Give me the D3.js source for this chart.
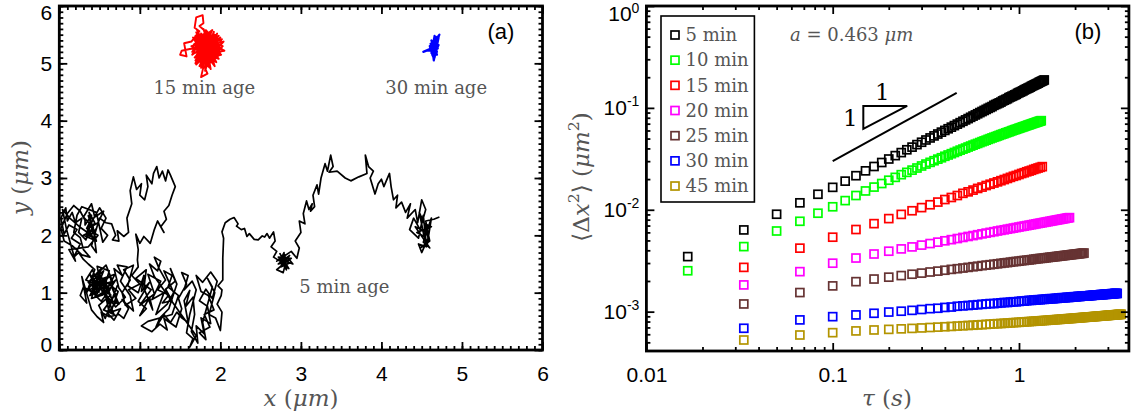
<!DOCTYPE html>
<html>
<head>
<meta charset="utf-8">
<script src="https://cdn.jsdelivr.net/npm/d3@7"></script>
<style>
  body { margin: 0; background: #fff; }
  svg { display: block; }
</style>
</head>
<body>
<svg id="fig" width="1140" height="416"></svg>
<script>
// ---------- Panel (a): particle trajectories, x / y in micrometres ----------
const traj5 = [
  // knot at lower left
  [0.50,1.00],[0.42,1.22],[0.55,1.38],[0.47,1.10],[0.60,1.25],[0.38,1.05],[0.52,0.85],[0.63,1.05],[0.45,1.30],[0.58,1.48],
  [0.66,1.20],[0.50,1.12],[0.62,0.82],[0.70,0.98],[0.55,0.70],[0.68,0.62],[0.60,0.90],[0.74,0.80],[0.65,1.10],[0.48,0.95],
  [0.30,1.10],[0.26,0.95],[0.34,0.82],[0.28,1.28],[0.40,0.70],[0.47,0.58],[0.55,0.48],[0.52,0.66],[0.62,0.58],[0.74,0.62],
  [0.80,0.55],[0.86,0.72],[0.78,0.88],[0.92,0.68],[0.88,0.95],[0.76,1.20],[0.84,1.45],[0.72,1.48],[0.78,1.30],[0.68,1.42],
  [0.74,1.08],[0.82,0.92],[0.70,0.75],
  [0.38,1.32],[0.46,1.05],[0.36,1.18],[0.52,1.42],[0.43,0.98],[0.58,1.12],[0.49,1.35],[0.40,0.90],[0.54,0.96],[0.47,1.46],
  [0.62,1.38],[0.55,1.05],[0.70,1.22],[0.60,1.00],[0.52,1.28],[0.66,0.86],[0.57,1.20],[0.73,1.02],[0.64,0.66],[0.76,0.72],
  [0.68,0.52],[0.60,0.64],[0.71,0.84],[0.63,1.28],[0.48,1.18],[0.41,1.40],[0.33,1.22],[0.45,1.15],[0.38,0.95],[0.50,1.05],
  [0.56,1.18],[0.44,0.92],[0.58,1.02],[0.69,1.32],[0.53,1.24],[0.61,0.72],[0.72,1.12],[0.57,0.55],[0.49,0.78],[0.64,0.96],
  [0.40,1.15],[0.34,1.00],[0.44,1.40],[0.36,1.50],[0.30,1.58],[0.24,1.70],[0.18,1.62],[0.26,1.85],[0.15,1.95],[0.22,2.10],
  // knot at the left edge
  [0.12,2.18],[0.06,2.02],[0.02,2.30],[0.08,2.48],[0.10,2.25],[0.16,2.40],[0.20,2.22],[0.28,2.30],[0.24,2.05],[0.33,1.92],
  [0.38,2.20],[0.30,2.32],[0.40,2.55],[0.44,2.32],[0.55,2.42],[0.48,2.22],[0.36,2.12],[0.42,1.95],[0.34,2.05],[0.42,2.28],
  [0.50,2.48],[0.58,2.30],[0.52,2.12],[0.60,2.00],[0.54,1.88],[0.46,2.40],[0.28,2.50],[0.22,2.35],[0.18,2.05],[0.26,1.96],
  [0.30,1.75],[0.38,1.62],[0.28,1.66],[0.16,1.82],[0.06,1.90],[0.02,2.12],[0.10,2.38],[0.18,2.52],[0.26,2.42],[0.32,2.26],
  [0.32,2.18],[0.40,2.35],[0.35,1.96],[0.44,2.22],[0.37,2.40],[0.41,2.08],[0.30,2.00],[0.46,1.90],[0.39,2.26],[0.34,2.12],
  [0.48,2.00],[0.36,1.80],[0.12,1.75],[0.20,1.55],[0.09,2.10],[0.04,2.45],[0.13,2.30],[0.25,2.15],[0.38,2.02],
  [0.38,1.98],[0.46,2.12],[0.40,1.82],[0.46,1.70],[0.42,2.15],[0.36,2.34],[0.44,2.02],[0.50,2.30],[0.58,2.22],[0.65,2.20],
  // upper loop
  [0.70,2.00],[0.66,1.92],[0.74,1.90],[0.72,2.08],[0.80,1.98],[0.86,2.05],[0.84,2.30],[0.90,2.55],[0.88,2.78],[0.92,3.02],
  [0.96,2.80],[1.02,2.90],[1.00,2.70],[1.06,2.62],[1.10,2.85],[1.08,3.05],[1.15,2.90],[1.17,3.08],[1.21,3.20],[1.24,3.00],
  [1.28,3.12],[1.32,2.95],[1.35,3.14],[1.38,3.05],[1.44,2.85],[1.40,2.70],[1.36,2.52],[1.30,2.42],[1.33,2.28],[1.26,2.15],
  [1.30,2.05],[1.22,2.25],[1.18,2.10],[1.13,1.86],[1.05,1.98],[1.00,1.86],[0.95,2.02],[0.98,1.75],[0.97,1.57],[0.98,1.45],
  // middle knot
  [0.90,1.30],[1.00,1.15],[0.86,1.05],[0.95,0.90],[0.82,0.78],[0.78,1.00],[0.88,1.22],[0.80,1.40],[0.92,1.48],[0.85,1.12],
  [0.98,1.00],[1.05,1.30],[1.02,1.02],[1.12,1.18],[0.98,0.85],[1.08,0.72],[1.00,0.60],[1.12,0.92],[1.16,0.70],[1.05,1.08],
  [1.08,1.40],[0.95,1.25],[1.14,1.05],[1.00,0.78],[1.18,0.98],[1.10,1.32],[1.26,1.20],[1.15,0.88],[1.30,1.00],[1.20,0.62],
  [1.34,0.80],[1.42,1.00],[1.30,1.38],[1.40,1.30],[1.35,1.10],[1.48,0.95],[1.40,0.62],
  [1.10,0.50],[1.02,0.42],[1.15,0.32],[1.25,0.45],[1.34,0.35],[1.30,0.55],[1.45,0.40],[1.52,0.72],[1.48,0.90],[1.58,1.15],
  [1.52,1.35],[1.60,1.30],[1.55,1.05],[1.65,1.20],[1.70,1.05],[1.62,0.62],[1.58,0.30],[1.66,0.20],[1.62,0.05],[1.70,0.25],
  [1.18,1.28],[1.12,1.50],[1.22,1.38],[1.26,1.55],[1.18,1.62],[1.24,1.42],[1.32,1.22],[1.22,1.05],[1.36,0.96],[1.28,0.82],
  [1.40,0.86],[1.32,1.06],[1.44,1.20],[1.38,1.42],[1.46,1.15],[1.36,0.72],[1.25,0.56],[1.20,0.40],[1.30,0.62],[1.38,0.48],
  // bottom stretch
  [1.46,0.66],[1.52,0.56],[1.60,0.48],[1.55,0.86],[1.62,1.04],[1.57,0.76],[1.66,0.92],[1.68,0.62],[1.64,0.32],[1.72,0.12],
  [1.70,0.42],[1.80,0.28],[1.76,0.56],[1.88,0.46],[1.84,0.76],[1.74,0.86],[1.82,1.06],[1.90,0.90],[1.96,1.20],[1.88,1.36],
  [1.78,1.18],[1.70,1.30],[1.76,1.02],[1.85,0.95],[1.92,0.70],[1.80,0.62],[1.87,0.40],[1.74,0.30],[1.82,0.18],[1.78,0.48],
  [1.90,1.10],[1.84,1.25],[1.93,1.00],[1.86,0.62],[1.94,0.56],[2.00,0.34],[2.02,0.66],[1.96,0.80],[2.01,0.95],
  // climb and drift to the right
  [2.02,1.05],[1.97,1.12],[2.03,1.22],[2.03,1.60],[2.04,1.95],[2.02,2.06],[2.06,2.22],[2.12,2.28],[2.17,2.31],[2.22,2.20],
  [2.20,2.16],[2.26,2.10],[2.30,2.12],[2.33,1.98],[2.36,2.03],[2.42,1.93],[2.47,1.92],[2.52,1.99],[2.55,1.97],[2.58,2.03],
  [2.61,1.95],[2.66,2.06],[2.68,1.90],[2.63,1.80],[2.70,1.72],[2.66,1.62],[2.74,1.55],[2.79,1.70],[2.80,1.45],[2.76,1.60],
  [2.84,1.55],[2.72,1.50],[2.86,1.65],[2.80,1.52],[2.70,1.40],[2.78,1.35],[2.83,1.62],[2.90,1.50],[2.76,1.57],[2.82,1.48],
  [2.74,1.68],[2.85,1.42],[2.77,1.48],[2.88,1.60],[2.72,1.62],[2.82,1.40],[2.79,1.58],[2.86,1.52],[2.75,1.45],[2.81,1.66],
  [2.70,1.55],[2.88,1.72],[2.95,1.60],[2.98,1.78],[2.93,1.90],[3.00,2.05],[2.98,2.25],[3.05,2.20],[3.03,2.38],[3.07,2.60],
  [3.10,2.45],[3.14,2.55],[3.12,2.42],[3.17,2.50],[3.15,2.70],[3.20,2.88],[3.22,2.72],[3.25,3.00],[3.30,3.25],[3.33,3.12],
  [3.37,3.40],[3.40,3.20],[3.35,3.10],[3.45,3.12],[3.55,3.00],[3.62,2.95],[3.72,3.02],[3.82,3.08],[3.80,3.40],[3.84,3.20],
  [3.90,3.12],[3.86,3.00],[3.92,2.72],[3.96,2.90],[4.00,2.98],[4.03,2.85],[4.10,3.08],[4.12,2.85],[4.15,2.62],[4.20,2.70],
  [4.18,2.48],[4.25,2.58],[4.30,2.40],[4.36,2.55],[4.32,2.30],[4.42,2.45],[4.45,2.22],[4.50,2.62],[4.55,2.45],[4.48,2.10],
  [4.40,2.30],[4.35,2.10],[4.46,1.95],[4.52,2.35],[4.56,1.80],[4.46,1.85],[4.50,1.70],[4.58,1.95],[4.54,2.20],[4.62,2.15],
  [4.44,2.05],[4.53,1.98],[4.47,2.40],[4.58,2.05],[4.42,2.15],[4.60,1.78],[4.52,1.88],[4.62,2.30],
  [4.57,1.85],[4.48,1.78],[4.60,1.90],[4.55,2.25],[4.65,2.28],[4.72,2.32]
];
const traj15 = [
  [1.80,5.30],[1.70,5.45],[1.92,5.18],[1.75,5.05],[1.98,5.40],[1.66,5.22],[1.88,5.55],[1.85,4.95],[1.70,5.35],[2.02,5.25],
  [1.78,5.48],[1.95,5.02],[1.64,5.30],[1.90,5.40],[1.72,5.12],[1.99,5.32],[1.82,5.58],[1.76,4.92],[1.93,5.28],[1.68,5.40],
  [1.86,5.10],[2.04,5.38],[1.74,5.25],[1.88,4.90],[1.80,5.52],[1.65,5.15],[1.96,5.45],[1.84,5.20],[1.71,5.58],[1.92,5.00],
  [1.78,5.36],[2.01,5.15],[1.69,5.05],[1.87,5.45],[1.81,4.87],[1.94,5.35],[1.73,5.50],[1.98,5.08],[1.77,5.18],[1.90,5.58],
  [1.67,5.33],[1.85,5.03],[2.03,5.30],[1.75,5.42],[1.83,5.12],[1.96,5.52],[1.70,4.98],[1.89,5.25],[1.79,5.60],[1.93,4.95],
  [1.66,5.45],[1.86,5.35],[2.00,5.45],[1.72,5.20],[1.84,4.82],[1.76,4.76],[1.80,5.00],[1.95,5.20],[1.68,5.10],[1.91,5.48],
  [1.78,5.28],[1.62,5.25],[1.52,5.22],[1.50,5.15],[1.58,5.12],[1.55,5.35],[1.64,5.38],[1.74,5.56],[1.68,5.62],[1.70,5.80],
  [1.78,5.84],[1.79,5.70],[1.74,5.65],[1.82,5.55],[1.88,5.30],[1.97,5.12],[1.82,5.42],[1.73,5.15],[1.91,5.06],[1.80,5.40],
  [2.05,5.22],[1.87,5.18],[1.71,5.30],[1.94,5.42],[1.83,5.00],[1.69,5.48],[1.99,5.28],[1.77,5.10],[1.92,5.55],[1.84,5.25],
  [1.74,4.95],[1.97,5.36],[1.81,5.50],[1.65,5.20],[1.90,5.12],[1.79,4.98],[2.02,5.42],[1.75,5.32],[1.88,5.02],[1.70,5.54],
  [1.95,5.26],[1.82,5.16],[1.67,5.42],[1.93,5.50],[1.86,4.93],[1.78,5.44],[2.00,5.18],[1.73,5.08],[1.89,5.36],[1.80,5.22],
  [1.76,5.52],[1.91,5.32],[1.84,5.06],[1.71,5.26],[1.98,5.48],[1.85,5.40],[1.69,5.00],[1.94,5.14],[1.80,5.34],
  [1.86,5.22],[1.74,5.38],[1.90,5.28],[1.78,5.14],[1.83,5.46],[1.72,5.34],[1.95,5.34],[1.81,5.08],[1.76,5.46],[1.88,5.16],
  [1.70,5.24],[1.92,5.40],[1.79,5.32],[1.85,5.48],[1.75,5.20],[1.97,5.24],[1.82,5.36],[1.73,5.42],[1.89,5.10],[1.80,5.46],
  [1.77,5.24],[1.94,5.30],[1.83,5.30],[1.71,5.16],[1.87,5.38],[1.79,5.06],[1.91,5.20],[1.76,5.30],[1.84,5.42],[1.80,5.14]
];
const traj30 = [
  [4.65,5.25],[4.62,5.35],[4.70,5.30],[4.63,5.15],[4.68,5.40],[4.60,5.22],[4.71,5.45],[4.66,5.10],[4.64,5.38],[4.69,5.20],
  [4.61,5.30],[4.72,5.50],[4.67,5.32],[4.62,5.18],[4.70,5.38],[4.65,5.05],[4.63,5.28],[4.68,5.46],[4.60,5.25],[4.52,5.20],
  [4.56,5.22],[4.64,5.22],[4.70,5.26],[4.66,5.42],[4.63,5.33],[4.69,5.15],[4.62,5.40],[4.67,5.20],[4.65,5.35],[4.71,5.32],
  [4.64,5.12],[4.60,5.30],[4.68,5.28],[4.66,5.48],[4.63,5.24],[4.70,5.42],[4.65,5.15],[4.67,5.36],[4.62,5.26],[4.69,5.34],
  [4.64,5.30],[4.66,5.18],[4.61,5.34],[4.68,5.22],[4.65,5.42],[4.67,5.28]
];
const trajLabels = ["5 min age", "15 min age", "30 min age"];

// ---------- Panel (b): mean squared displacement, um^2 ----------
const frameRate = 60;                 // frames per second; lag = index / frameRate
const ageLabels = ["5 min", "10 min", "15 min", "20 min", "25 min", "30 min", "45 min"];
const ageColors = ["#000000", "#00ff00", "#ff0000", "#ff00ff", "#663333", "#0000ff", "#b39400"];
const firstLag = [1, 1, 2, 2, 2, 2, 2];
const lagStep  = [1, 1, 2, 2, 2, 2, 2];
const msd5 = [0.00347,0.00634,0.00904,0.0117,0.0142,0.0166,0.0191,0.0216,0.0241,0.0266,0.0291,0.0315,0.0340,0.0364,0.0388,0.0412,
  0.0436,0.0460,0.0484,0.0507,0.0531,0.0554,0.0578,0.0601,0.0624,0.0647,0.0670,0.0693,0.0716,0.0739,0.0762,0.0785,0.0808,0.0831,
  0.0853,0.0876,0.0899,0.0921,0.0944,0.0966,0.0989,0.101,0.103,0.106,0.108,0.110,0.112,0.114,0.117,0.119,0.121,0.123,0.126,0.128,
  0.130,0.132,0.134,0.136,0.139,0.141,0.143,0.145,0.147,0.150,0.152,0.154,0.156,0.158,0.160,0.163,0.165,0.167,0.169,0.171,0.173,
  0.175,0.178,0.180,0.182,0.184,0.186,0.188];
const msd10 = [0.00252,0.00435,0.00619,0.00771,0.00925,0.0107,0.0123,0.0138,0.0153,0.0167,0.0181,0.0195,0.0208,0.0221,0.0233,0.0245,
  0.0257,0.0269,0.0281,0.0292,0.0303,0.0314,0.0324,0.0335,0.0345,0.0355,0.0365,0.0375,0.0385,0.0394,0.0403,0.0413,0.0422,0.0431,
  0.0440,0.0448,0.0457,0.0466,0.0474,0.0482,0.0491,0.0499,0.0507,0.0515,0.0522,0.0530,0.0538,0.0546,0.0553,0.0560,0.0568,0.0575,
  0.0582,0.0589,0.0597,0.0604,0.0611,0.0617,0.0624,0.0631,0.0638,0.0644,0.0651,0.0657,0.0664,0.0670,0.0677,0.0683,0.0689,0.0696,
  0.0702,0.0708,0.0714,0.0720,0.0726,0.0732,0.0738,0.0743,0.0749];
const msd15 = [0.00272,0.00420,0.00538,0.00640,0.00731,0.00819,0.00901,0.00978,0.0105,0.0112,0.0119,0.0126,0.0132,0.0138,0.0145,
  0.0150,0.0156,0.0162,0.0167,0.0173,0.0178,0.0183,0.0188,0.0193,0.0198,0.0203,0.0208,0.0213,0.0217,0.0222,0.0227,0.0231,0.0236,
  0.0240,0.0244,0.0249,0.0253,0.0257,0.0261,0.0265];
const msd20 = [0.00183,0.00247,0.00299,0.00336,0.00368,0.00392,0.00413,0.00432,0.00450,0.00466,0.00481,0.00496,0.00509,0.00522,
  0.00535,0.00547,0.00558,0.00569,0.00580,0.00590,0.00600,0.00609,0.00619,0.00628,0.00636,0.00645,0.00653,0.00661,0.00669,0.00677,
  0.00685,0.00692,0.00699,0.00706,0.00713,0.00720,0.00727,0.00734,0.00740,0.00746,0.00753,0.00759,0.00765,0.00771,0.00777,0.00783,
  0.00789,0.00794,0.00800,0.00805,0.00811,0.00816,0.00821,0.00827,0.00832,0.00837];
const msd25 = [0.00119,0.00154,0.00179,0.00197,0.00209,0.00218,0.00226,0.00233,0.00239,0.00245,0.00250,0.00255,0.00260,0.00264,
  0.00268,0.00272,0.00276,0.00279,0.00283,0.00286,0.00289,0.00292,0.00295,0.00298,0.00301,0.00303,0.00306,0.00309,0.00311,0.00313,
  0.00316,0.00318,0.00320,0.00322,0.00324,0.00327,0.00329,0.00331,0.00333,0.00334,0.00336,0.00338,0.00340,0.00342,0.00343,0.00345,
  0.00347,0.00348,0.00350,0.00352,0.00353,0.00355,0.00356,0.00358,0.00359,0.00361,0.00362,0.00364,0.00365,0.00366,0.00368,0.00369,
  0.00370,0.00372,0.00373,0.00374,0.00376];
const msd30 = [0.000687,0.000830,0.000893,0.000929,0.000964,0.000991,0.00101,0.00103,0.00105,0.00107,0.00108,0.00110,0.00111,
  0.00113,0.00114,0.00115,0.00116,0.00117,0.00118,0.00119,0.00120,0.00120,0.00121,0.00122,0.00123,0.00123,0.00124,0.00125,0.00125,
  0.00126,0.00127,0.00127,0.00128,0.00129,0.00129,0.00130,0.00130,0.00131,0.00131,0.00132,0.00132,0.00133,0.00133,0.00134,0.00134,
  0.00134,0.00135,0.00135,0.00136,0.00136,0.00137,0.00137,0.00137,0.00138,0.00138,0.00138,0.00139,0.00139,0.00140,0.00140,0.00140,
  0.00141,0.00141,0.00141,0.00142,0.00142,0.00142,0.00143,0.00143,0.00143,0.00143,0.00144,0.00144,0.00144,0.00145,0.00145,0.00145,
  0.00146,0.00146,0.00146,0.00146,0.00147,0.00147,0.00147,0.00147,0.00148,0.00148,0.00148,0.00148,0.00149,0.00149,0.00149,0.00149,
  0.00150,0.00150,0.00150,0.00150,0.00151,0.00151,0.00151,0.00151];
const msd45 = [0.000527,0.000590,0.000622,0.000647,0.000661,0.000670,0.000678,0.000685,0.000692,0.000699,0.000705,0.000711,
  0.000716,0.000722,0.000727,0.000732,0.000736,0.000741,0.000745,0.000750,0.000754,0.000758,0.000762,0.000765,0.000769,0.000773,
  0.000776,0.000780,0.000783,0.000786,0.000790,0.000793,0.000796,0.000799,0.000802,0.000805,0.000808,0.000811,0.000813,0.000816,
  0.000819,0.000821,0.000824,0.000827,0.000829,0.000832,0.000834,0.000837,0.000839,0.000841,0.000844,0.000846,0.000848,0.000851,
  0.000853,0.000855,0.000857,0.000859,0.000861,0.000864,0.000866,0.000868,0.000870,0.000872,0.000874,0.000876,0.000878,0.000880,
  0.000882,0.000884,0.000885,0.000887,0.000889,0.000891,0.000893,0.000895,0.000897,0.000898,0.000900,0.000902,0.000904,0.000905,
  0.000907,0.000909,0.000910,0.000912,0.000914,0.000915,0.000917,0.000918,0.000920,0.000921,0.000923,0.000925,0.000926,0.000928,
  0.000929,0.000931,0.000932,0.000934,0.000935,0.000937,0.000938,0.000940,0.000941,0.000943];
const msdAll = [msd5, msd10, msd15, msd20, msd25, msd30, msd45];

// slope-one guide line and triangle, in (tau, msd) coordinates
const guideLine = [[0.1, 0.0301], [0.463, 0.140]];
const guideTriangle = [[0.146, 0.0621], [0.146, 0.1044], [0.251, 0.1044]];

// ---------- drawing ----------
const SANS = "'Liberation Sans', Arial, sans-serif";
const SERIF = "'DejaVu Serif', serif";
const GREY = "#555555";
const svg = d3.select("#fig");
svg.append("rect").attr("width", 1140).attr("height", 416).attr("fill", "#fff");

// text made of plain / italic / superscript pieces
function mathText(sel, parts, fs) {
  let raised = false;
  parts.forEach(p => {
    const t = sel.append("tspan").text(p.t);
    if (p.it) t.attr("font-style", "italic");
    if (p.sup) {
      t.attr("font-size", fs * 0.68).attr("dy", -fs * 0.42);
      raised = true;
    } else if (raised) {
      t.attr("dy", fs * 0.42);
      raised = false;
    }
  });
  return sel;
}

function styleAxis(g, fs) {
  g.select(".domain").remove();
  g.attr("font-family", SANS).attr("font-size", fs);
  g.selectAll(".tick line").attr("stroke", "#000").attr("stroke-width", 1.8);
  g.selectAll(".tick text").attr("fill", "#000");
}

// frame + mirrored major/minor inward ticks
function frame(g, x, y, xMajor, xMinor, yMajor, yMinor, xFmt, yFmt) {
  const [x0, x1] = x.range(), [y0, y1] = y.range();
  const MAJ = 8, MIN = 4;
  const add = (axis, tx, ty) => g.append("g").attr("transform", `translate(${tx},${ty})`).call(axis).call(s => styleAxis(s, 21));
  add(d3.axisBottom(x).tickValues(xMinor).tickSize(-MIN).tickFormat(""), 0, y0);
  add(d3.axisTop(x).tickValues(xMinor).tickSize(-MIN).tickFormat(""), 0, y1);
  add(d3.axisLeft(y).tickValues(yMinor).tickSize(-MIN).tickFormat(""), x0, 0);
  add(d3.axisRight(y).tickValues(yMinor).tickSize(-MIN).tickFormat(""), x1, 0);
  const bx = add(d3.axisBottom(x).tickValues(xMajor).tickSize(-MAJ).tickPadding(16).tickFormat(xFmt), 0, y0);
  add(d3.axisTop(x).tickValues(xMajor).tickSize(-MAJ).tickFormat(""), 0, y1);
  const ly = add(d3.axisLeft(y).tickValues(yMajor).tickSize(-MAJ).tickPadding(7).tickFormat(yFmt), x0, 0);
  add(d3.axisRight(y).tickValues(yMajor).tickSize(-MAJ).tickFormat(""), x1, 0);
  g.append("rect").attr("x", x0).attr("y", y1).attr("width", x1 - x0).attr("height", y0 - y1)
    .attr("fill", "none").attr("stroke", "#000").attr("stroke-width", 2.8);
  return { bx, ly };
}

// ----- panel (a) -----
const gA = svg.append("g");
const xA = d3.scaleLinear().domain([0, 6]).range([59.3, 542.5]);
const yA = d3.scaleLinear().domain([0, 6]).range([350, 6]);
const lineA = d3.line().x(d => xA(d[0])).y(d => yA(d[1]));

gA.append("path").datum(traj5).attr("d", lineA).attr("fill", "none").attr("stroke", "#000")
  .attr("stroke-width", 1.7).attr("stroke-linejoin", "round");
gA.append("path").datum(traj15).attr("d", lineA).attr("fill", "none").attr("stroke", "#ff0000")
  .attr("stroke-width", 1.9).attr("stroke-linejoin", "round");
gA.append("path").datum(traj30).attr("d", lineA).attr("fill", "none").attr("stroke", "#0000ff")
  .attr("stroke-width", 2.2).attr("stroke-linejoin", "round");

const ticksA = d3.range(0, 7);
const minorA = d3.range(0, 61).map(i => i / 10);
const axA = frame(gA, xA, yA, ticksA, minorA, ticksA, minorA, d3.format("d"), d3.format("d"));
axA.ly.selectAll(".tick text").attr("y", d => d === 6 ? 6.5 : d === 0 ? -5.5 : 0);

const trajLabelPos = [[3.54, 1.10], [1.80, 4.57], [4.68, 4.57]];
trajLabels.forEach((t, i) => {
  gA.append("text").attr("x", xA(trajLabelPos[i][0])).attr("y", yA(trajLabelPos[i][1]))
    .attr("text-anchor", "middle").attr("dy", "0.35em")
    .attr("font-family", SERIF).attr("font-size", 18).attr("fill", GREY).text(t);
});
gA.append("text").attr("x", 501).attr("y", 31).attr("dy", "0.35em").attr("text-anchor", "middle")
  .attr("font-family", SANS).attr("font-size", 22).attr("fill", "#000").text("(a)");
mathText(gA.append("text").attr("x", 301).attr("y", 398).attr("dy", "0.35em").attr("text-anchor", "middle")
  .attr("font-family", SERIF).attr("font-size", 23).attr("fill", GREY),
  [{ t: "x", it: true }, { t: " (" }, { t: "μm", it: true }, { t: ")" }], 23);
mathText(gA.append("text").attr("transform", "translate(20,177.5) rotate(-90)").attr("dy", "0.35em")
  .attr("text-anchor", "middle").attr("font-family", SERIF).attr("font-size", 23).attr("fill", GREY),
  [{ t: "y", it: true }, { t: " (" }, { t: "μm", it: true }, { t: ")" }], 23);

// ----- panel (b) -----
const gB = svg.append("g");
const xB = d3.scaleLog().domain([0.01, 3.89]).range([646.4, 1128.9]);
const yB = d3.scaleLog().domain([4.11e-4, 1]).range([351, 6]);

const xMajB = [0.01, 0.1, 1];
const xMinB = [];
[0.01, 0.1, 1].forEach(d => d3.range(2, 10).forEach(m => { if (d * m < 3.89) xMinB.push(d * m); }));
const yMajB = [1e-3, 1e-2, 1e-1, 1];
const yMinB = [];
[1e-4, 1e-3, 1e-2, 1e-1].forEach(d => d3.range(2, 10).forEach(m => { if (d * m > 4.11e-4) yMinB.push(d * m); }));

const MK = 8;
msdAll.forEach((msd, s) => {
  const pts = msd.map((v, i) => ({ tau: (firstLag[s] + i * lagStep[s]) / frameRate, v }));
  gB.append("g").selectAll("rect").data(pts).join("rect")
    .attr("x", d => xB(d.tau) - MK / 2).attr("y", d => yB(d.v) - MK / 2)
    .attr("width", MK).attr("height", MK)
    .attr("fill", "none").attr("stroke", ageColors[s]).attr("stroke-width", 1.7);
});

const axB = frame(gB, xB, yB, xMajB, xMinB, yMajB, yMinB, d3.format("~g"), () => "");
axB.ly.selectAll(".tick text").each(function (d) {
  const t = d3.select(this);
  t.text(null);
  t.append("tspan").text("10");
  t.append("tspan").attr("font-size", 14).attr("dy", "-0.62em").text(String(Math.round(Math.log10(d))));
}).attr("y", d => d === 1 ? 8 : 0);

// slope guide
const lineB = d3.line().x(d => xB(d[0])).y(d => yB(d[1]));
gB.append("path").datum(guideLine).attr("d", lineB).attr("stroke", "#000").attr("stroke-width", 2).attr("fill", "none");
gB.append("path").datum(guideTriangle).attr("d", d => lineB(d) + "Z").attr("stroke", "#000").attr("stroke-width", 2).attr("fill", "none");
const triTopX = (xB(guideTriangle[1][0]) + xB(guideTriangle[2][0])) / 2 - 3;
gB.append("text").attr("x", triTopX).attr("y", yB(guideTriangle[1][1]) - 14).attr("dy", "0.35em")
  .attr("text-anchor", "middle").attr("font-family", SERIF).attr("font-size", 23).attr("fill", "#000").text("1");
gB.append("text").attr("x", xB(guideTriangle[0][0]) - 13).attr("y", (yB(guideTriangle[0][1]) + yB(guideTriangle[1][1])) / 2)
  .attr("dy", "0.35em").attr("text-anchor", "middle").attr("font-family", SERIF).attr("font-size", 23).attr("fill", "#000").text("1");

// legend
const lg = gB.append("g");
lg.append("rect").attr("x", 661).attr("y", 16).attr("width", 93.4).attr("height", 186)
  .attr("fill", "#fff").attr("stroke", "#000").attr("stroke-width", 1.6);
ageLabels.forEach((lab, i) => {
  const cy = 35 + i * 25.17;
  lg.append("rect").attr("x", 675 - MK / 2).attr("y", cy - MK / 2).attr("width", MK).attr("height", MK)
    .attr("fill", "none").attr("stroke", ageColors[i]).attr("stroke-width", 1.7);
  lg.append("text").attr("x", 685.6).attr("y", cy).attr("dy", "0.35em")
    .attr("font-family", SERIF).attr("font-size", 18).attr("fill", GREY).text(lab);
});

mathText(gB.append("text").attr("x", 790).attr("y", 35).attr("dy", "0.35em")
  .attr("font-family", SERIF).attr("font-size", 18).attr("fill", GREY),
  [{ t: "a", it: true }, { t: " = 0.463 " }, { t: "μm", it: true }], 18);
gB.append("text").attr("x", 1088).attr("y", 31).attr("dy", "0.35em").attr("text-anchor", "middle")
  .attr("font-family", SANS).attr("font-size", 22).attr("fill", "#000").text("(b)");
mathText(gB.append("text").attr("x", 887).attr("y", 398).attr("dy", "0.35em").attr("text-anchor", "middle")
  .attr("font-family", SERIF).attr("font-size", 23).attr("fill", GREY),
  [{ t: "τ", it: true }, { t: " (" }, { t: "s", it: true }, { t: ")" }], 23);
mathText(gB.append("text").attr("transform", "translate(581,177) rotate(-90)").attr("dy", "0.35em")
  .attr("text-anchor", "middle").attr("font-family", SERIF).attr("font-size", 23).attr("fill", GREY),
  [{ t: "⟨Δ" }, { t: "x", it: true }, { t: "2", sup: true }, { t: "⟩  (" }, { t: "μm", it: true }, { t: "2", sup: true }, { t: ")" }], 23);
</script>
</body>
</html>
